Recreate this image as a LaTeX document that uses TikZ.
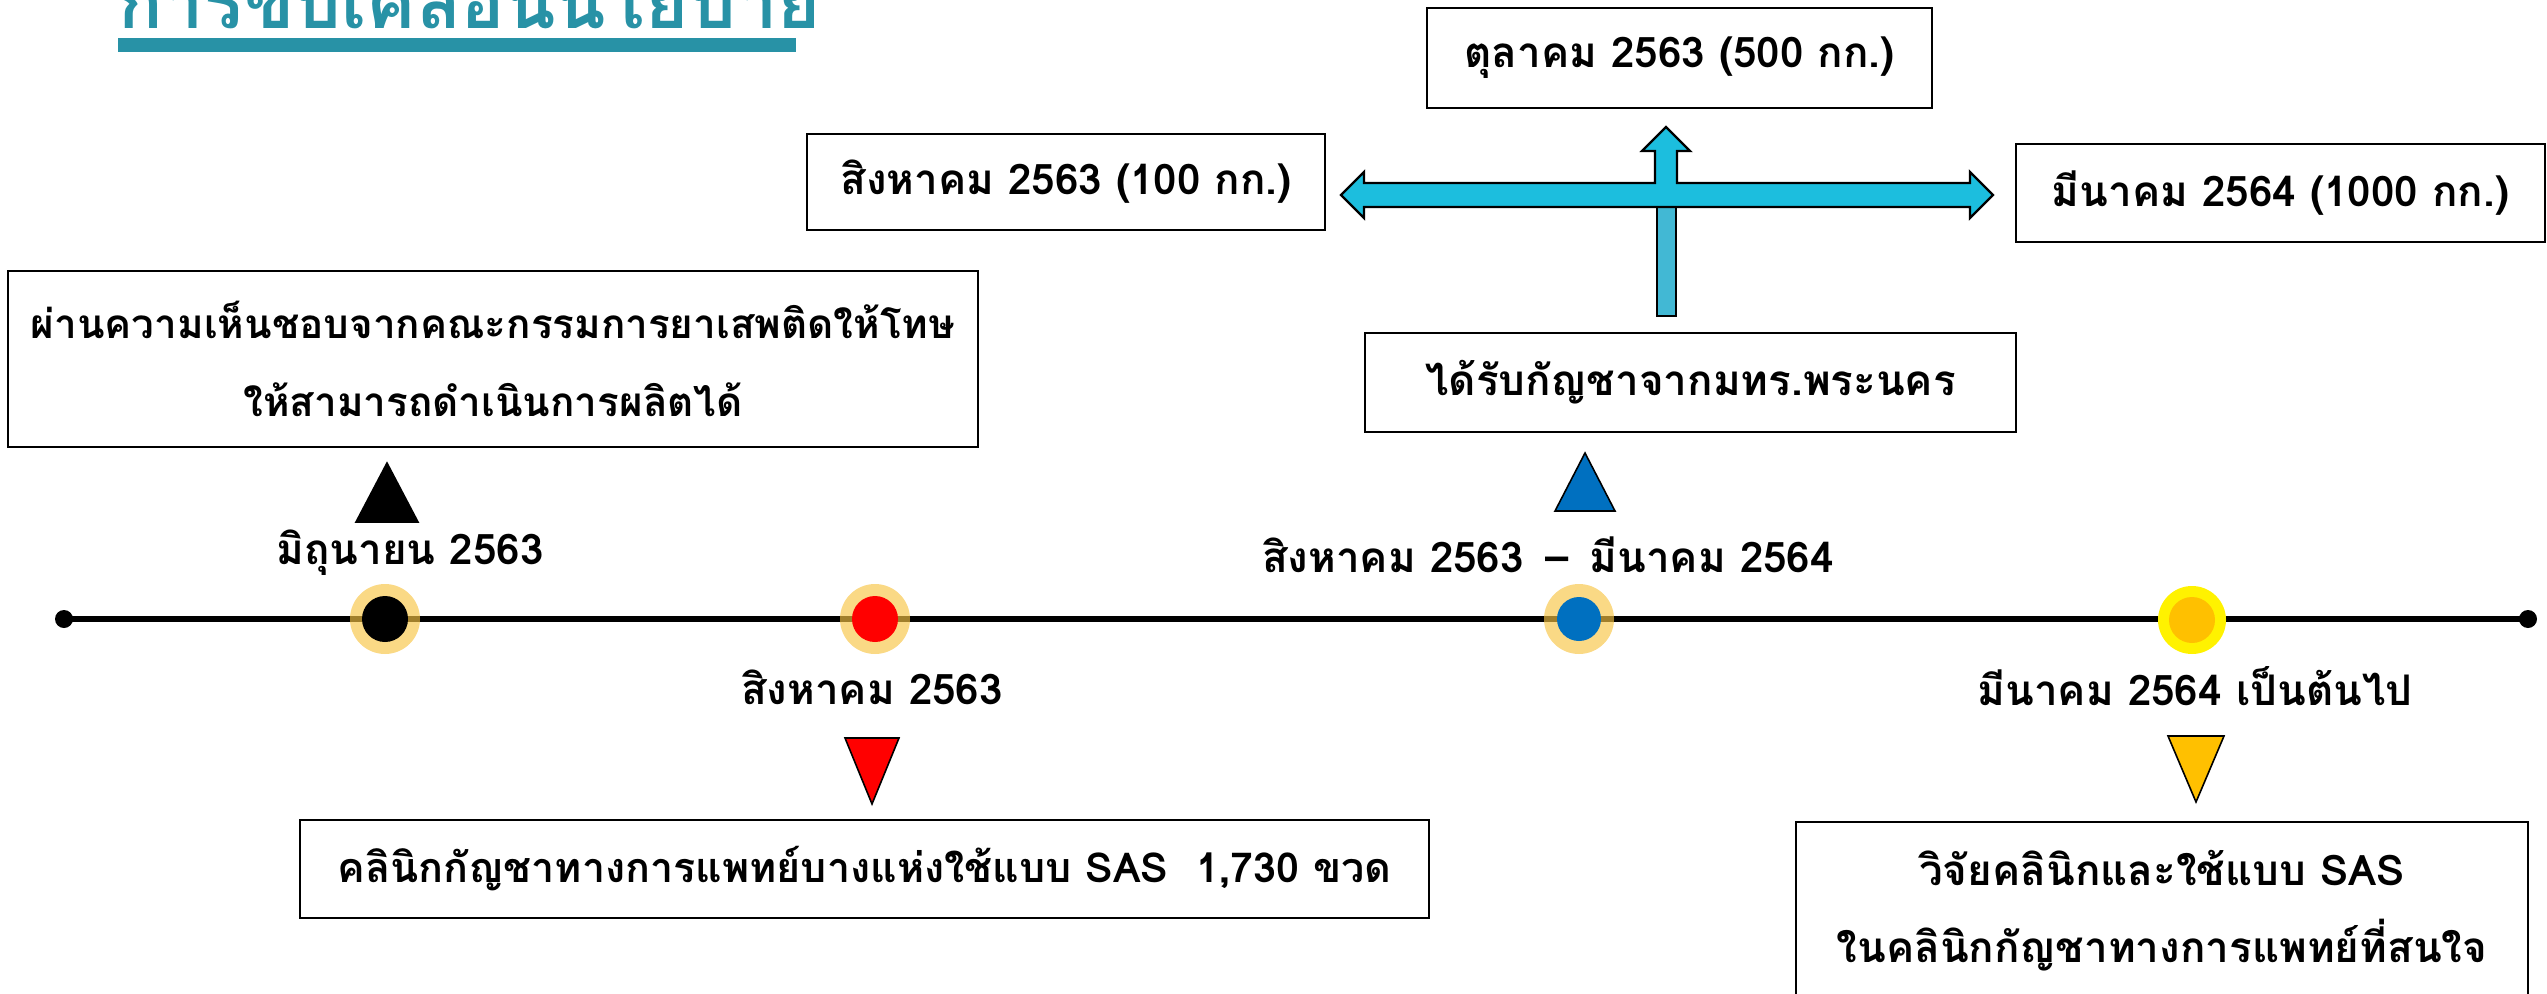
\documentclass[tikz,border=0pt]{standalone}
\usepackage{fontspec}
\setmainfont[Script=Thai]{Loma}
\definecolor{teal1}{RGB}{40,146,166}
\definecolor{arrowc}{RGB}{28,190,222}
\definecolor{stemc}{RGB}{66,184,212}
\definecolor{ringc}{RGB}{248,196,67}
\definecolor{blue1}{RGB}{0,112,192}
\definecolor{gold1}{RGB}{255,192,0}
\begin{document}
\begin{tikzpicture}[x=0.02cm,y=-0.02cm,
  txt/.style={font=\bfseries\fontsize{24}{44}\selectfont, inner sep=0pt},
  box/.style={draw=black, line width=1.1pt, fill=white, align=center, txt, inner sep=0pt},
  ring/.style={fill=ringc, fill opacity=0.65, draw=none},
  tri/.style={draw=black, line width=0.9pt, line join=miter}]
\useasboundingbox (0,0) rectangle (2547,994);
% title
\node[anchor=base west, inner sep=0pt, text=teal1, font=\bfseries\fontsize{42}{50}\selectfont] (title) at (118,28) {การขับเคลื่อนนโยบาย};
\fill[teal1] (118,38) rectangle (796,52);
% timeline
\coordinate (tl) at (64,619);
\coordinate (tr) at (2528,619);
\draw[line width=3.4pt] (tl) -- (tr);
\fill (tl) circle (9);
\fill (tr) circle (9);
% dots
\fill[ring] (385,619) circle (35);
\fill[black] (385,619) circle (23);
\fill[ring] (875,619) circle (35);
\fill[red] (875,619) circle (23);
\fill[ring] (1579,619) circle (35);
\fill[blue1] (1579,619) circle (22);
\fill[yellow] (2192,620) circle (34);
\fill[gold1] (2192,620) circle (23);
% triangles
\filldraw[tri, fill=black] (356,522) -- (418,522) -- (387,463) -- cycle;
\filldraw[tri, fill=red] (845,738) -- (899,738) -- (872,804) -- cycle;
\filldraw[tri, fill=blue1] (1555,511) -- (1615,511) -- (1585,453) -- cycle;
\filldraw[tri, fill=gold1] (2168,736) -- (2224,736) -- (2196,802) -- cycle;
% labels
\node[txt] (ljun) at (410,553) {มิถุนายน 2563};
\node[txt] (laug) at (872,687) {สิงหาคม 2563};
\node[txt] (laugmar) at (1548,555) {สิงหาคม 2563 \,–\, มีนาคม 2564};
\node[txt] (lmar) at (2195,686) {มีนาคม 2564 เป็นต้นไป};
% boxes
\node[box, font=\bfseries\fontsize{23}{44}\selectfont, minimum width=19.4cm, minimum height=3.52cm] (approve) at (493,359) {ผ่านความเห็นชอบจากคณะกรรมการยาเสพติดให้โทษ\\ให้สามารถดำเนินการผลิตได้};
\node[box, font=\bfseries\fontsize{23.5}{44}\selectfont, minimum width=22.58cm, minimum height=1.96cm] (sas) at (864.5,869) {คลินิกกัญชาทางการแพทย์บางแห่งใช้แบบ SAS\ \ 1,730 ขวด};
\node[box, minimum width=14.64cm, minimum height=3.56cm] (research) at (2162,911) {วิจัยคลินิกและใช้แบบ SAS\\ในคลินิกกัญชาทางการแพทย์ที่สนใจ};
\node[box, minimum width=13.02cm, minimum height=1.98cm] (recv) at (1690.5,382.5) {ได้รับกัญชาจากมทร.พระนคร};
\node[box, minimum width=10.1cm, minimum height=2.0cm] (oct) at (1679.5,58) {ตุลาคม 2563 (500 กก.)};
\node[box, minimum width=10.36cm, minimum height=1.92cm] (aug100) at (1066,182) {สิงหาคม 2563 (100 กก.)};
\node[box, minimum width=10.58cm, minimum height=1.96cm] (mar1000) at (2280.5,193) {มีนาคม 2564 (1000 กก.)};
% stem from recv to arrow
\filldraw[fill=stemc, draw=black, line width=1pt] (1657,207) rectangle (1676,316);
% arrow
\filldraw[fill=arrowc, draw=black, line width=1.3pt, line join=miter]
  (1341,195) -- (1364,172) -- (1364,183) -- (1655,183) -- (1655,151) -- (1642,151)
  -- (1666,127) -- (1690,151) -- (1677,151) -- (1677,183) -- (1970,183) -- (1970,172)
  -- (1993,195) -- (1970,218) -- (1970,207) -- (1364,207) -- (1364,218) -- cycle;
\end{tikzpicture}
\end{document}
